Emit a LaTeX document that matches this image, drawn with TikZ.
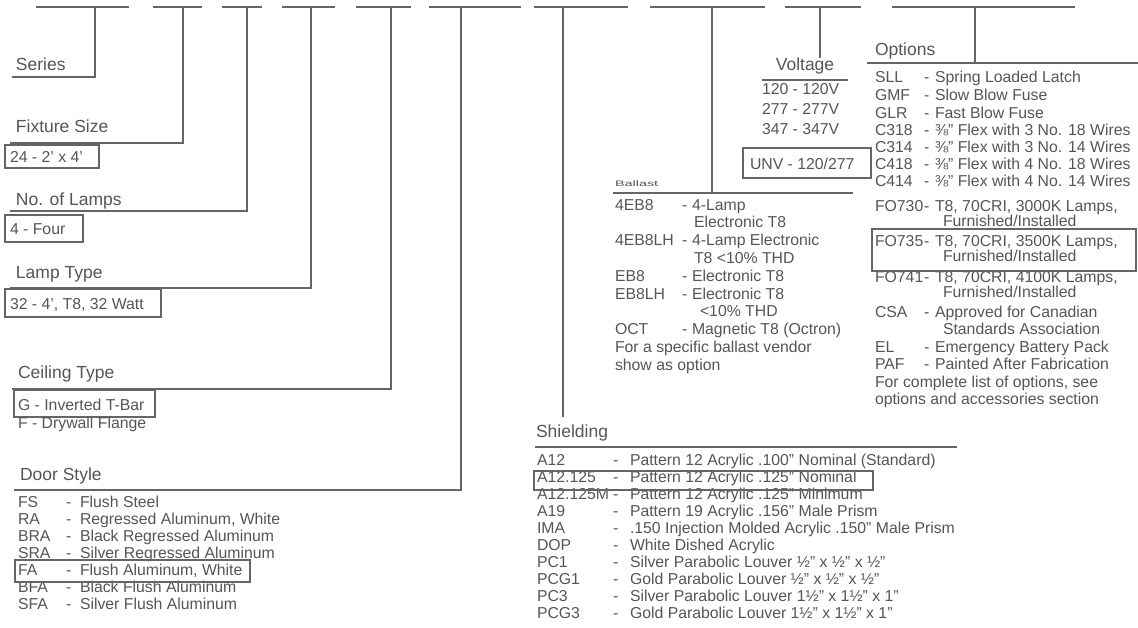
\documentclass[tikz,border=0pt]{standalone}
\usepackage{fontspec}
\setmainfont{Liberation Sans}
\usepackage{graphicx}
\usetikzlibrary{positioning}
\definecolor{ink}{HTML}{555555}
\definecolor{rule}{HTML}{666666}

\begin{document}
\begin{tikzpicture}[x=1pt,y=-1pt,every node/.style={inner sep=0pt,outer sep=0pt,anchor=base west,text=ink},head/.style={font=\fontsize{17.5}{17}\selectfont},item/.style={font=\fontsize{15.8}{17}\selectfont},pick/.style={draw=rule,line width=1.5pt,anchor=north west},lead/.style={draw=rule,line width=1.5pt}]
\useasboundingbox (0,0) rectangle (1138,627);

% order code blanks along the top
\foreach \a/\b in {36/129,153/202,222/262,282/335,356/411,429/521,534/628,650/765,785/861,892/1075}
  \draw[lead] (\a,7) -- (\b,7);

% leaders of the left column
\foreach \n/\x/\y/\l in {ser/95/77/12,siz/183/143/10,lam/247/211/10,typ/311/288/10,cei/391/389/12,door/461/490/14}{
  \coordinate (\n T) at (\x,7);
  \coordinate (\n E) at (\l,\y);
  \draw[lead] (\n T) |- (\n E);
}

% Series .. Ceiling Type
\node[head] (series) at (16,70) {Series};
\node[head] (size) at (16,132) {Fixture Size};
\node[pick,minimum width=94pt,minimum height=23pt] (sizePick) at (5,145) {};
\node[item] (sizeVal) at (10,162) {24 - 2' x 4'};
\node[head] (lamps) at (16,205) {No. of Lamps};
\node[pick,minimum width=78pt,minimum height=27pt] (lampsPick) at (5,215) {};
\node[item] (lampsVal) at (10,234) {4 - Four};
\node[head] (ltype) at (16,278) {Lamp Type};
\node[pick,minimum width=156pt,minimum height=28pt] (ltypePick) at (5,289) {};
\node[item] (ltypeVal) at (10,309) {32 - 4', T8, 32 Watt};
\node[head] (ceil) at (18,378) {Ceiling Type};
\node[pick,minimum width=141pt,minimum height=27pt] (ceilPick) at (14,390) {};
\node[item] (ceilG) at (18,410) {G - Inverted T-Bar};
\node[item] (ceilF) at (18,428) {F - Drywall Flange};

% Door Style
\node[head] (door) at (20,480) {Door Style};
\foreach \k/\d [count=\i] in {FS/Flush Steel,{RA/Regressed Aluminum, White},BRA/Black Regressed Aluminum,SRA/Silver Regressed Aluminum,{FA/Flush Aluminum, White},BFA/Black Flush Aluminum,SFA/Silver Flush Aluminum}{
  \node[item] (door\i) at (18,{490+17*\i}) {\k};
  \node[item] at (66,{490+17*\i}) {-};
  \node[item] at (80,{490+17*\i}) {\d};
}
\node[pick,minimum width=235pt,minimum height=22pt] (doorPick) at (15,560) {};

% Shielding
\coordinate (shdT) at (563,7);
\coordinate (shdE) at (563,417);
\draw[lead] (shdT) -- (shdE);
\node[head] (shd) at (536,437) {Shielding};
\coordinate (shdL) at (535,447);
\coordinate (shdR) at (957,447);
\draw[lead] (shdL) -- (shdR);
\foreach \k/\d [count=\i] in {A12/Pattern 12 Acrylic .100" Nominal (Standard),A12.125/Pattern 12 Acrylic .125" Nominal,A12.125M/Pattern 12 Acrylic .125" Minimum,A19/Pattern 19 Acrylic .156" Male Prism,IMA/.150 Injection Molded Acrylic .150" Male Prism,DOP/White Dished Acrylic,PC1/Silver Parabolic Louver ½" x ½" x ½",PCG1/Gold Parabolic Louver ½" x ½" x ½",PC3/Silver Parabolic Louver 1½" x 1½" x 1",PCG3/Gold Parabolic Louver 1½" x 1½" x 1"}{
  \node[item] (shd\i) at (537,{448+17*\i}) {\k};
  \node[item] at (613,{448+17*\i}) {-};
  \node[item] at (630,{448+17*\i}) {\d};
}
\node[pick,minimum width=339pt,minimum height=19pt] (shdPick) at (534,471) {};

% Ballast
\coordinate (balT) at (712,7);
\coordinate (balE) at (712,193);
\draw[lead] (balT) -- (balE);
\node[font=\fontsize{8}{8}\selectfont] (bal) at (615,186) {\scalebox{1.8}[1]{Ballast}};
\coordinate (balL) at (613,193);
\coordinate (balR) at (853,193);
\draw[lead] (balL) -- (balR);
\foreach \k/\d/\y in {4EB8/4-Lamp/210,4EB8LH/4-Lamp Electronic/245.6,EB8/Electronic T8/281.2,EB8LH/Electronic T8/299,OCT/Magnetic T8 (Octron)/334.6}{
  \node[item] at (615,\y) {\k};
  \node[item] at (682,\y) {-};
  \node[item] at (692,\y) {\d};
}
\node[item] (bal2) at (694,227.8) {Electronic T8};
\node[item] (bal4) at (694,263.4) {T8 <10\% THD};
\node[item] (bal7) at (700,316.8) {<10\% THD};
\node[item] (balNote) at (615,352.4) {For a specific ballast vendor};
\node[item] (balShow) at (615,370.2) {show as option};

% Voltage
\coordinate (volT) at (820,7);
\coordinate (volE) at (820,58);
\draw[lead] (volT) -- (volE);
\node[head,anchor=base] (vol) at (805,70) {Voltage};
\coordinate (volL) at (762,80);
\coordinate (volR) at (848,80);
\draw[lead] (volL) -- (volR);
\node[item] (v120) at (762,94) {120 - 120V};
\node[item] (v277) at (762,114) {277 - 277V};
\node[item] (v347) at (762,134) {347 - 347V};
\node[pick,minimum width=128pt,minimum height=30pt] (volPick) at (743,148) {};
\node[item] (vUNV) at (750,169) {UNV - 120/277};

% Options
\coordinate (optT) at (975,7);
\coordinate (optE) at (975,63);
\draw[lead] (optT) -- (optE);
\node[head] (opt) at (875,55) {Options};
\coordinate (optL) at (867,63);
\coordinate (optR) at (1138,63);
\draw[lead] (optL) -- (optR);
\foreach \k/\d/\y in {SLL/Spring Loaded Latch/82,GMF/Slow Blow Fuse/100,GLR/Fast Blow Fuse/118,C318/⅜" Flex with 3 No. 18 Wires/135,C314/⅜" Flex with 3 No. 14 Wires/152,C418/⅜" Flex with 4 No. 18 Wires/169,C414/⅜" Flex with 4 No. 14 Wires/186,{FO730/T8, 70CRI, 3000K Lamps,/211},{FO735/T8, 70CRI, 3500K Lamps,/246},{FO741/T8, 70CRI, 4100K Lamps,/282},CSA/Approved for Canadian/317,EL/Emergency Battery Pack/352,PAF/Painted After Fabrication/369}{
  \node[item] at (875,\y) {\k};
  \node[item] at (924,\y) {-};
  \node[item] at (935,\y) {\d};
}
\node[item] (fo730b) at (943,226) {Furnished/Installed};
\node[item] (fo735b) at (943,261) {Furnished/Installed};
\node[item] (fo741b) at (943,297) {Furnished/Installed};
\node[item] (csab) at (943,334) {Standards Association};
\node[item] (optNote) at (875,387) {For complete list of options, see};
\node[item] (optNote2) at (875,404) {options and accessories section};
\node[pick,minimum width=264pt,minimum height=42pt] (optPick) at (872,229) {};
\end{tikzpicture}
\end{document}
